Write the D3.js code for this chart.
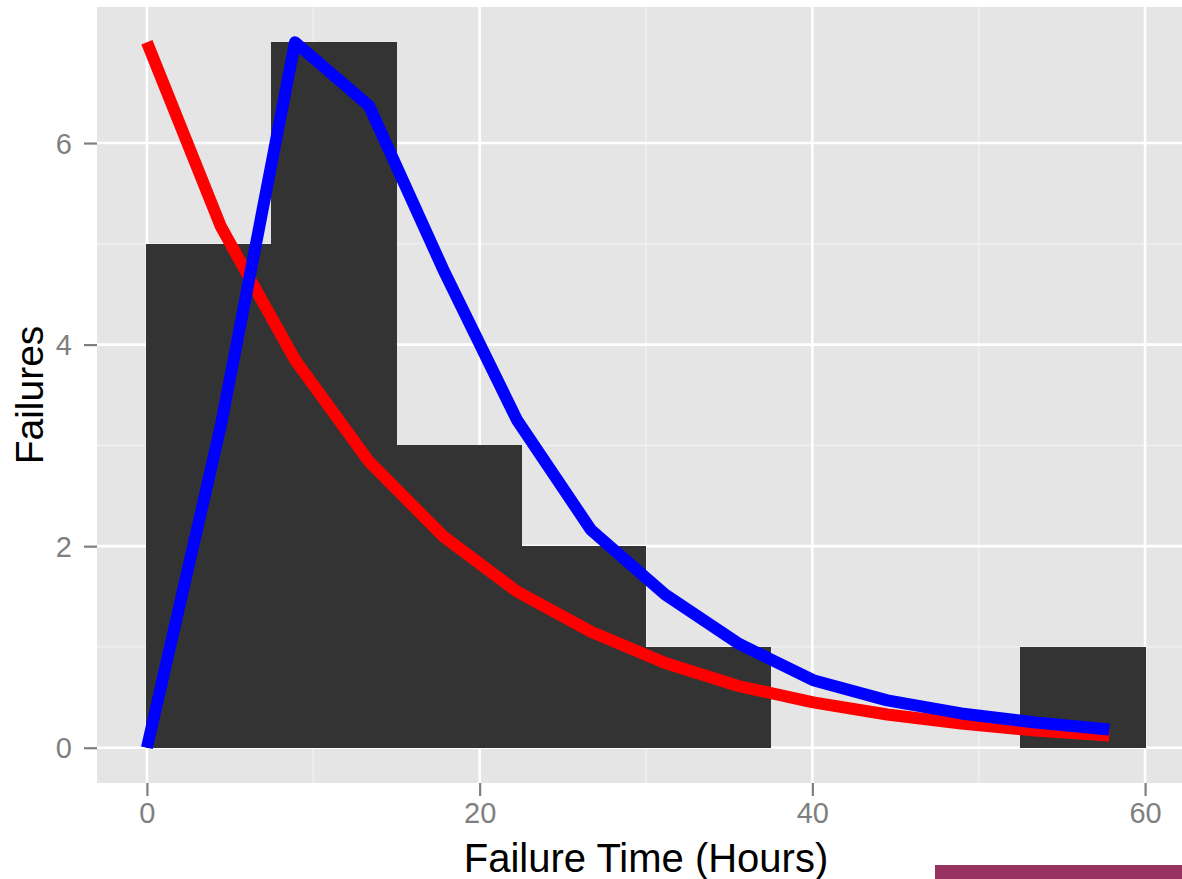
<!DOCTYPE html>
<html>
<head>
<meta charset="utf-8">
<script src="https://cdn.jsdelivr.net/npm/d3@7/dist/d3.min.js"></script>
<style>
  html, body { margin: 0; padding: 0; background: #ffffff; }
  svg { display: block; }
</style>
</head>
<body>
<svg id="chart" width="1182" height="879"></svg>
<script>
// ---- Data ----
const binEdges = [0, 7.5, 15, 22.5, 30, 37.5, 45, 52.5, 60];
const binCounts = [5, 7, 3, 2, 1, 0, 0, 1];

const timeGrid = [0, 4.45, 8.9, 13.35, 17.8, 22.25, 26.7, 31.15, 35.6, 40.05, 44.5, 48.95, 53.4, 57.85];
const expFit = [7, 5.17, 3.85, 2.84, 2.1, 1.55, 1.15, 0.84, 0.61, 0.45, 0.33, 0.24, 0.17, 0.12];
const weibullFit = [0, 3.2, 7.0, 6.37, 4.75, 3.25, 2.16, 1.52, 1.03, 0.67, 0.47, 0.34, 0.25, 0.18];

const xTicks = [0, 20, 40, 60];
const xMinor = [10, 30, 50];
const yTicks = [0, 2, 4, 6];
const yMinor = [1, 3, 5];

const xTitle = "Failure Time (Hours)";
const yTitle = "Failures";

// ---- Layout ----
const svg = d3.select("#chart");
const panel = { left: 97, right: 1195, top: 7, bottom: 783 };
const font = "'Liberation Sans', Arial, sans-serif";

const x = d3.scaleLinear().domain([-3, 63]).range([panel.left, panel.right]);
const y = d3.scaleLinear().domain([-0.35, 7.35]).range([panel.bottom, panel.top]);

// panel background
svg.append("rect")
  .attr("x", panel.left).attr("y", panel.top)
  .attr("width", panel.right - panel.left).attr("height", panel.bottom - panel.top)
  .attr("fill", "#e5e5e5");

const grid = svg.append("g");
// minor grid
grid.selectAll(".vminor").data(xMinor).enter().append("line")
  .attr("x1", d => x(d)).attr("x2", d => x(d))
  .attr("y1", panel.top).attr("y2", panel.bottom)
  .attr("stroke", "#f2f2f2").attr("stroke-width", 1.3);
grid.selectAll(".hminor").data(yMinor).enter().append("line")
  .attr("y1", d => y(d)).attr("y2", d => y(d))
  .attr("x1", panel.left).attr("x2", panel.right)
  .attr("stroke", "#f2f2f2").attr("stroke-width", 1.3);
// major grid
grid.selectAll(".vmajor").data(xTicks).enter().append("line")
  .attr("x1", d => x(d)).attr("x2", d => x(d))
  .attr("y1", panel.top).attr("y2", panel.bottom)
  .attr("stroke", "#ffffff").attr("stroke-width", 2.6);
grid.selectAll(".hmajor").data(yTicks).enter().append("line")
  .attr("y1", d => y(d)).attr("y2", d => y(d))
  .attr("x1", panel.left).attr("x2", panel.right)
  .attr("stroke", "#ffffff").attr("stroke-width", 2.6);

// bars
const bins = binCounts.map((c, i) => ({ x0: binEdges[i], x1: binEdges[i + 1], count: c }));
svg.append("g").attr("shape-rendering", "crispEdges")
  .selectAll("rect").data(bins.filter(b => b.count > 0)).enter().append("rect")
  .attr("x", d => Math.floor(x(d.x0)))
  .attr("width", d => Math.ceil(x(d.x1)) - Math.floor(x(d.x0)))
  .attr("y", d => y(d.count))
  .attr("height", d => y(0) - y(d.count))
  .attr("fill", "#333333");

// lines
const line = d3.line().x(d => x(d[0])).y(d => y(d[1]));
svg.append("path")
  .datum(timeGrid.map((t, i) => [t, expFit[i]]))
  .attr("d", line)
  .attr("fill", "none").attr("stroke", "#ff0000")
  .attr("stroke-width", 12).attr("stroke-linejoin", "round").attr("stroke-linecap", "butt");
svg.append("path")
  .datum(timeGrid.map((t, i) => [t, weibullFit[i]]))
  .attr("d", line)
  .attr("fill", "none").attr("stroke", "#0000ff")
  .attr("stroke-width", 12).attr("stroke-linejoin", "round").attr("stroke-linecap", "butt");

// axes
const xAxis = d3.axisBottom(x).tickValues(xTicks).tickSize(13).tickPadding(6).tickFormat(d3.format("d"));
const gx = svg.append("g").attr("transform", `translate(0,${panel.bottom})`).call(xAxis);
gx.select(".domain").remove();
gx.selectAll(".tick line").attr("stroke", "#7f7f7f").attr("stroke-width", 2.2);
gx.selectAll(".tick text").attr("fill", "#7f7f7f").attr("font-family", font).attr("font-size", 29)
  .attr("dy", "0.71em");

const yAxis = d3.axisLeft(y).tickValues(yTicks).tickSize(13).tickPadding(12).tickFormat(d3.format("d"));
const gy = svg.append("g").attr("transform", `translate(${panel.left},0)`).call(yAxis);
gy.select(".domain").remove();
gy.selectAll(".tick line").attr("stroke", "#7f7f7f").attr("stroke-width", 2.2);
gy.selectAll(".tick text").attr("fill", "#7f7f7f").attr("font-family", font).attr("font-size", 29)
  .attr("dy", "0.35em");

// titles
svg.append("text")
  .attr("x", (panel.left + panel.right) / 2).attr("y", 872)
  .attr("text-anchor", "middle")
  .attr("font-family", font).attr("font-size", 40).attr("fill", "#000")
  .text(xTitle);
svg.append("text")
  .attr("transform", `translate(43,${(panel.top + panel.bottom) / 2}) rotate(-90)`)
  .attr("text-anchor", "middle")
  .attr("font-family", font).attr("font-size", 39).attr("fill", "#000")
  .text(yTitle);

// decorative purple bar at bottom right
svg.append("rect")
  .attr("x", 935).attr("y", 865).attr("width", 247).attr("height", 14)
  .attr("fill", "#983261");
</script>
</body>
</html>
